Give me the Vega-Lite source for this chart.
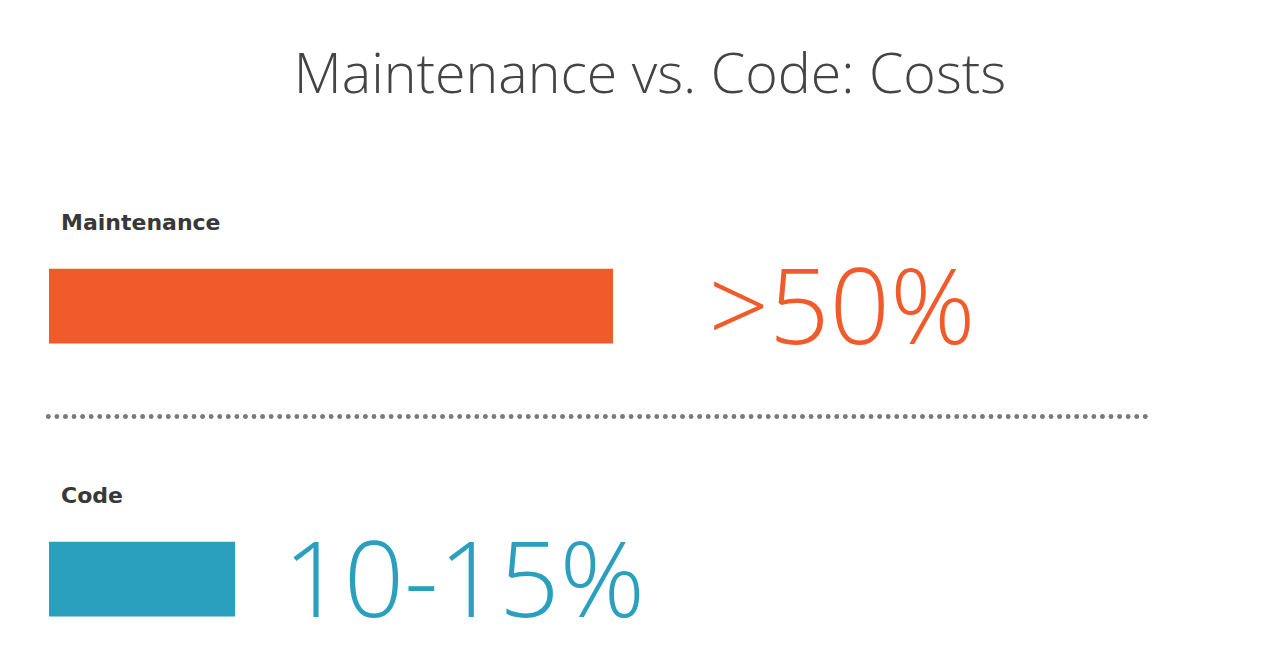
{
  "$schema": "https://vega.github.io/schema/vega-lite/v6.json",
  "width": 1280,
  "height": 668,
  "autosize": {"type": "fit", "contains": "padding"},
  "padding": {"top": 48, "left": 0, "right": 0, "bottom": 0},
  "background": "white",
  "config": {"view": {"stroke": null}},
  "title": {
    "text": "Maintenance vs. Code: Costs",
    "font": "Open Sans",
    "fontWeight": 300,
    "fontSize": 55.5,
    "color": "#444444",
    "anchor": "middle",
    "dx": 10,
    "offset": 18
  },
  "data": {
    "values": [
      {"item": "Maintenance", "value": 50, "display": ">50%"},
      {"item": "Code", "value": 16.5, "display": "10-15%"}
    ]
  },
  "encoding": {
    "y": {
      "field": "item",
      "type": "nominal",
      "sort": ["Maintenance", "Code"],
      "axis": null,
      "scale": {"paddingInner": 0.7258, "paddingOuter": 0.3629, "align": 0.7406}
    }
  },
  "layer": [
    {
      "mark": {"type": "bar", "cornerRadius": 0},
      "encoding": {
        "x": {"field": "value", "type": "quantitative", "scale": {"domain": [-4.344, 109.13], "nice": false, "zero": false}, "axis": null},
        "x2": {"datum": 0},
        "color": {"field": "item", "type": "nominal", "scale": {"domain": ["Maintenance", "Code"], "range": ["#F15A2B", "#2BA0BE"]}, "legend": null}
      }
    },
    {
      "mark": {"type": "text", "align": "center", "baseline": "alphabetic", "dx": 229, "dy": 38, "font": "Open Sans", "fontWeight": 300, "fontSize": 106},
      "encoding": {
        "x": {"field": "value", "type": "quantitative"},
        "text": {"field": "display", "type": "nominal"},
        "color": {"field": "item", "type": "nominal", "legend": null}
      }
    },
    {
      "mark": {"type": "text", "align": "left", "baseline": "alphabetic", "dx": 12, "dy": -39, "font": "DejaVu Sans", "fontWeight": "bold", "fontSize": 22, "color": "#383838"},
      "encoding": {
        "x": {"datum": 0, "type": "quantitative"},
        "y": {"field": "item", "type": "nominal", "sort": ["Maintenance", "Code"], "bandPosition": 0},
        "text": {"field": "item", "type": "nominal"}
      }
    },
    {
      "mark": {"type": "rule", "strokeDash": [0, 8.57], "strokeCap": "round", "strokeWidth": 4.6, "color": "#7a7a7a"},
      "encoding": {
        "x": {"datum": -0.06, "type": "quantitative"},
        "x2": {"datum": 97.3},
        "y": {"datum": "Code", "type": "nominal", "bandPosition": -1.673}
      }
    }
  ]
}
